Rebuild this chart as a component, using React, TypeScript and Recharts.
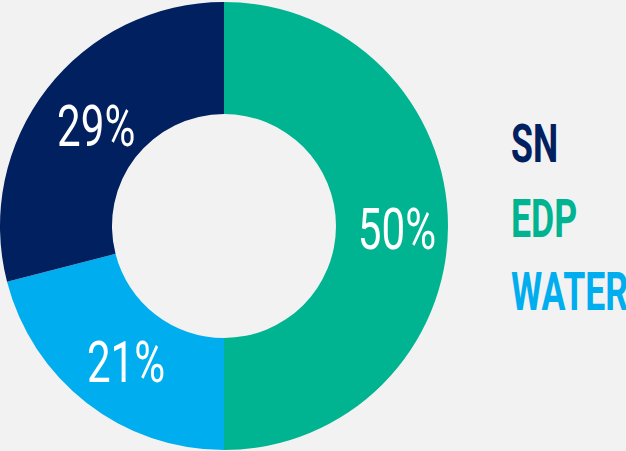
import { PieChart, Pie, Cell } from "recharts";

const names = ["EDP", "WATER", "SN"];
const shares = [50, 21, 29];
const colors = ["#00B491", "#00AEEF", "#002060"];
const legendOrder = ["SN", "EDP", "WATER"];
const legendTops = [117, 192, 265];

const data = names.map((name, i) => ({ name, value: shares[i] }));

const FONT = "Roboto, 'DejaVu Sans', sans-serif";
const RAD = Math.PI / 180;

const renderLabel = (p: any) => {
  const r = (p.innerRadius + p.outerRadius) / 2;
  const x = p.cx + r * Math.cos(-p.midAngle * RAD) + 5;
  const y = p.cy + r * Math.sin(-p.midAngle * RAD) + 3;
  return (
    <text
      transform={`translate(${x},${y}) scale(0.74,1)`}
      x={0}
      y={20}
      fill="#fff"
      textAnchor="middle"
      fontFamily={FONT}
      fontSize={57}
    >
      {`${p.value}%`}
    </text>
  );
};

export default function App() {
  return (
    <div style={{ position: "absolute", left: 0, top: 0, width: 626, height: 451, background: "#F2F2F2", overflow: "hidden" }}>
      <PieChart width={626} height={451} margin={{ top: 0, right: 0, bottom: 0, left: 0 }}>
        <Pie
          data={data}
          dataKey="value"
          nameKey="name"
          cx={224}
          cy={226}
          innerRadius={112}
          outerRadius={224}
          startAngle={90}
          endAngle={-270}
          stroke="none"
          label={renderLabel}
          labelLine={false}
          isAnimationActive={false}
        >
          {data.map((d, i) => (
            <Cell key={d.name} fill={colors[i]} />
          ))}
        </Pie>
      </PieChart>
      {legendOrder.map((n, i) => (
        <div
          key={n}
          style={{
            position: "absolute",
            left: 511,
            top: legendTops[i],
            fontFamily: FONT,
            fontWeight: 700,
            fontSize: 54,
            lineHeight: 1,
            color: colors[names.indexOf(n)],
            whiteSpace: "nowrap",
            transform: "scaleX(0.66)",
            transformOrigin: "left top",
          }}
        >
          {n}
        </div>
      ))}
    </div>
  );
}
